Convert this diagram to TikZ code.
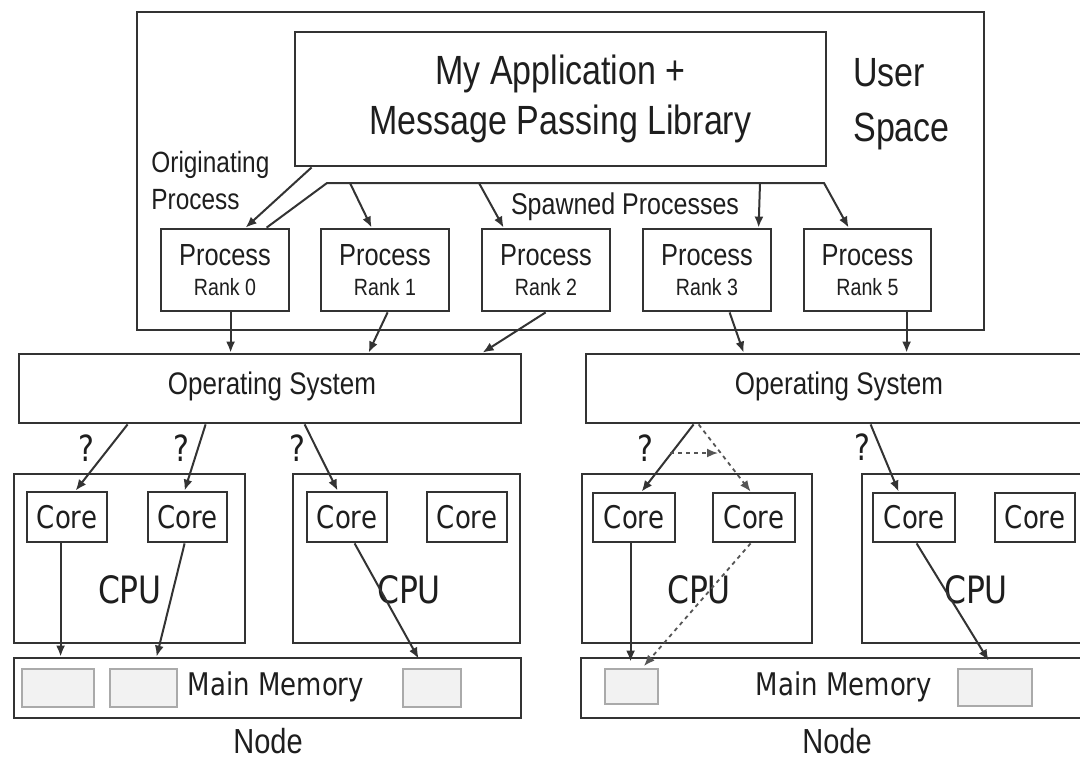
\documentclass[tikz,border=0pt]{standalone}
\usepackage{graphicx}
\usepackage{fontspec}
\setmainfont{Liberation Sans}
\newfontfamily\dejavu{DejaVu Sans}
\usetikzlibrary{fit,calc,arrows.meta}
\definecolor{linec}{HTML}{333333}
\definecolor{textc}{HTML}{1E1E1E}
\definecolor{memfill}{HTML}{F2F2F2}
\definecolor{memline}{HTML}{AAAAAA}
\definecolor{dashc}{HTML}{555555}
\newcommand\vstr[1]{\scalebox{1}[1.2]{#1}}
\tikzset{
  box/.style={draw=linec, line width=1.4pt, inner sep=0pt},
  membox/.style={draw=memline, fill=memfill, line width=1pt, inner sep=0pt},
  lbl/.style={inner sep=0pt, text=textc},
  arr/.style={draw=linec, line width=1pt, -{Latex[length=5.5pt,width=4.5pt]}},
  darr/.style={draw=dashc, line width=0.9pt, dash pattern=on 2pt off 2pt, -{Latex[length=5.5pt,width=4.5pt]}},
  fproc/.style={lbl, font=\fontsize{12.7}{14.8}\selectfont, align=center},
  fos/.style={lbl, font=\fontsize{13}{15}\selectfont},
  fcore/.style={lbl, font=\dejavu\fontsize{13}{15}\selectfont},
  fcpu/.style={lbl, font=\dejavu\fontsize{15.7}{18}\selectfont},
  fmem/.style={lbl, font=\dejavu\fontsize{13}{15}\selectfont},
  fq/.style={lbl, font=\dejavu\fontsize{15}{18}\selectfont},
  fnode/.style={lbl, font=\fontsize{14.5}{17}\selectfont},
}
\begin{document}
\begin{tikzpicture}[x=0.5pt,y=-0.5pt]
\useasboundingbox (0,0) rectangle (1080,762);
\clip (0,0) rectangle (1080,762);
\fill[white] (0,0) rectangle (1080,762);

% ---------- user space ----------
\node[box, fit={(137,12) (984,330)}] (user) {};
\node[lbl, anchor=west, align=left, font=\fontsize{17}{27.5}\selectfont] (usertxt) at (853,104) {\vstr{User}\\\vstr{Space}};
\node[box, fit={(295,32) (826,166)}] (app) {};
\node[lbl, align=center, font=\fontsize{17}{25}\selectfont] (apptxt) at ($(app.center)+(0,0)$) {\vstr{My Application +}\\\vstr{Message Passing Library}};
\node[lbl, anchor=west, align=left, font=\fontsize{12.2}{18.5}\selectfont] (orig) at (151,181) {\vstr{Originating}\\\vstr{Process}};
\node[lbl, font=\fontsize{12.5}{15}\selectfont] (spawn) at (625,207) {\vstr{Spawned Processes}};

\node[box, fit={(161,229) (289,311)}] (P0) {};
\node[box, fit={(321,229) (449,311)}] (P1) {};
\node[box, fit={(482,229) (610,311)}] (P2) {};
\node[box, fit={(643,229) (771,311)}] (P3) {};
\node[box, fit={(804,229) (931,311)}] (P5) {};
\node[fproc] (P0t) at (P0.center) {\vstr{Process}\\{\fontsize{9.8}{12}\selectfont\vstr{Rank 0}}};
\node[fproc] (P1t) at (P1.center) {\vstr{Process}\\{\fontsize{9.8}{12}\selectfont\vstr{Rank 1}}};
\node[fproc] (P2t) at (P2.center) {\vstr{Process}\\{\fontsize{9.8}{12}\selectfont\vstr{Rank 2}}};
\node[fproc] (P3t) at (P3.center) {\vstr{Process}\\{\fontsize{9.8}{12}\selectfont\vstr{Rank 3}}};
\node[fproc] (P5t) at (P5.center) {\vstr{Process}\\{\fontsize{9.8}{12}\selectfont\vstr{Rank 5}}};

% spawn line
\coordinate (sl) at (327,183);
\coordinate (sr) at (824,183);
\draw[arr] ($(app.south west)+(18,0)$) -- ($(P0.north west)+(86,0)$);
\draw[arr] ($(P0.north west)+(107,0)$) -- (sl) -- (sr) -- ($(P5.north west)+(46,0)$);
\draw[arr] ($(sl)+(23,0)$) -- ($(P1.north west)+(52,0)$);
\draw[arr] ($(sl)+(152,0)$) -- ($(P2.north west)+(23,0)$);
\draw[arr] ($(sl)+(433,0)$) -- ($(P3.north west)+(117,0)$);

% ---------- operating systems ----------
\node[box, fit={(19,354) (521,423)}] (OS1) {};
\node[box, fit={(586,354) (1100,423)}] (OS2) {};
\node[fos] (OS1txt) at (272,386) {\vstr{Operating System}};
\node[fos] (OS2txt) at (839,386) {\vstr{Operating System}};

\draw[arr] ($(P0.south west)+(71,0)$) -- ($(OS1.north west)+(213,0)$);
\draw[arr] ($(P1.south west)+(68,0)$) -- ($(OS1.north west)+(351,0)$);
\draw[arr] ($(P2.south west)+(65,0)$) -- ($(OS1.north west)+(465,0)$);
\draw[arr] ($(P3.south west)+(88,0)$) -- ($(OS2.north west)+(159,0)$);
\draw[arr] ($(P5.south west)+(104,0)$) -- ($(OS2.north west)+(322,0)$);

% ---------- left node ----------
\node[box, fit={(14,474) (245,643)}] (CPU1) {};
\node[box, fit={(293,474) (520,643)}] (CPU2) {};
\node[fcpu] (CPU1t) at (130,590) {\vstr{CPU}};
\node[fcpu] (CPU2t) at (409,590) {\vstr{CPU}};
\node[box, fit={(27,492) (107,542)}] (C1) {};
\node[box, fit={(148,492) (227,542)}] (C2) {};
\node[box, fit={(307,492) (387,542)}] (C3) {};
\node[box, fit={(427,492) (507,542)}] (C4) {};
\node[fcore] (C1t) at (C1.center) {\vstr{Core}};
\node[fcore] (C2t) at (C2.center) {\vstr{Core}};
\node[fcore] (C3t) at (C3.center) {\vstr{Core}};
\node[fcore] (C4t) at (C4.center) {\vstr{Core}};
\node[box, fit={(14,658) (521,718)}] (MEM1) {};
\node[membox, fit={(22,669) (94,707)}] (m1) {};
\node[membox, fit={(110,669) (177,707)}] (m2) {};
\node[membox, fit={(403,669) (461,707)}] (m3) {};
\node[fmem] (MEM1t) at (276,687) {\vstr{Main Memory}};
\node[fnode] (N1) at (268,741) {\vstr{Node}};

\node[fq] (q1) at (86,448) {\vstr{?}};
\node[fq] (q2) at (181,448) {\vstr{?}};
\node[fq] (q3) at (297,448) {\vstr{?}};

\draw[arr] ($(OS1.south west)+(110,0)$) -- ($(C1.north west)+(50,0)$);
\draw[arr] ($(OS1.south west)+(188,0)$) -- ($(C2.north west)+(38,0)$);
\draw[arr] ($(OS1.south west)+(287,0)$) -- ($(C3.north west)+(32,0)$);
\draw[arr] ($(C1.south west)+(35,0)$) -- ($(MEM1.north west)+(48,0)$);
\draw[arr] ($(C2.south west)+(38,0)$) -- ($(MEM1.north west)+(144,0)$);
\draw[arr] ($(C3.south west)+(49,0)$) -- ($(MEM1.north west)+(406,2)$);

% ---------- right node ----------
\node[box, fit={(582,474) (812,643)}] (CPU3) {};
\node[box, fit={(862,474) (1100,643)}] (CPU4) {};
\node[fcpu] (CPU3t) at (699,590) {\vstr{CPU}};
\node[fcpu] (CPU4t) at (976,590) {\vstr{CPU}};
\node[box, fit={(593,493) (675,542)}] (C5) {};
\node[box, fit={(713,493) (795,542)}] (C6) {};
\node[box, fit={(873,493) (955,542)}] (C7) {};
\node[box, fit={(995,493) (1075,542)}] (C8) {};
\node[fcore] (C5t) at (C5.center) {\vstr{Core}};
\node[fcore] (C6t) at (C6.center) {\vstr{Core}};
\node[fcore] (C7t) at (C7.center) {\vstr{Core}};
\node[fcore] (C8t) at (C8.center) {\vstr{Core}};
\node[box, fit={(581,658) (1100,718)}] (MEM2) {};
\node[membox, fit={(605,669) (658,704)}] (m4) {};
\node[membox, fit={(958,669) (1032,706)}] (m5) {};
\node[fmem] (MEM2t) at (844,687) {\vstr{Main Memory}};
\node[fnode] (N2) at (837,741) {\vstr{Node}};

\node[fq] (q4) at (645,448) {\vstr{?}};
\node[fq] (q5) at (862,447) {\vstr{?}};

\coordinate (mg1) at (670,453);
\coordinate (mg2) at (718,453);
\draw[arr] ($(OS2.south west)+(109,0)$) -- ($(C5.north west)+(50,0)$);
\draw[darr] ($(OS2.south west)+(114,0)$) -- ($(C6.north west)+(39,0)$);
\draw[darr] (mg1) -- (mg2);
\draw[arr] ($(OS2.south west)+(286,0)$) -- ($(C7.north west)+(27,0)$);
\draw[arr] ($(C5.south west)+(39,0)$) -- ($(MEM2.north west)+(51,5)$);
\draw[darr] ($(C6.south west)+(39,0)$) -- ($(m4.north west)+(40,-2)$);
\draw[arr] ($(C7.south west)+(45,0)$) -- ($(MEM2.north west)+(409,4)$);
\end{tikzpicture}
\end{document}
